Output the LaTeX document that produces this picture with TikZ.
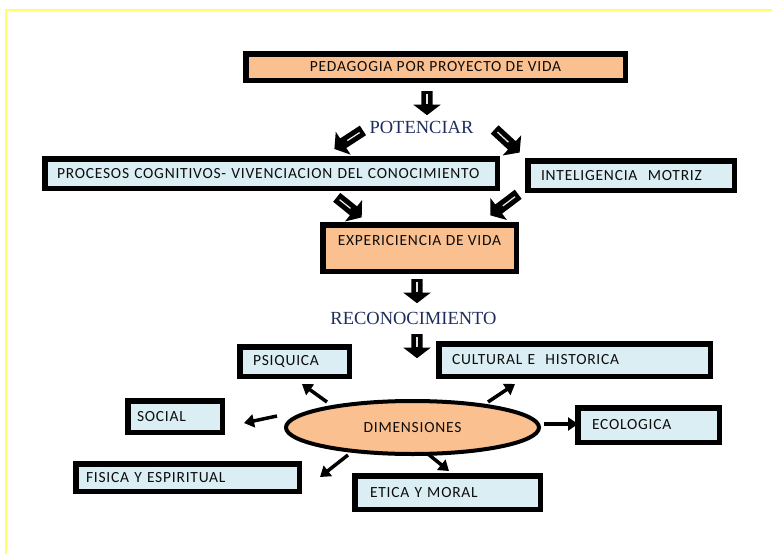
\documentclass[tikz,border=0pt]{standalone}
\usepackage{fontspec}
\setmainfont{Liberation Serif}
\newfontfamily\boxfont[LetterSpace=5]{Carlito}
\usetikzlibrary{shapes.geometric,shapes.arrows,arrows.meta,calc}
\definecolor{peach}{RGB}{250,192,143}
\definecolor{paleblue}{RGB}{219,238,244}
\definecolor{labelblue}{RGB}{30,45,90}
\definecolor{frameyellow}{RGB}{255,255,110}
\begin{document}
\begin{tikzpicture}[x=1pt,y=-1pt,
  box/.style={draw=black, line width=5.5pt, rectangle, font=\boxfont\fontsize{15.5}{17}\selectfont, text=black!95},
  obox/.style={box, fill=peach},
  bbox/.style={box, fill=paleblue, align=left},
  word/.style={font=\fontsize{18.5}{20}\selectfont, text=labelblue, inner sep=0pt},
  blockarrow/.style={single arrow, fill=black, inner sep=5.5pt, single arrow head extend=8pt, single arrow tip angle=105, minimum height=#1},
  blockarrow/.default=24pt,
  shaft/.style={draw=white!90!black, line width=1.3pt},
  thinarrow/.style={line width=3.5pt, -{Triangle[length=10pt,width=13pt]}},
  frame/.style={draw=frameyellow, line width=1.5pt}
]
\useasboundingbox (0,0) rectangle (772,554);
\draw[frame] (5,10) -- (772,10);
\draw[frame] (6,10) -- (6,554);

% boxes
\node[obox, minimum width=379.5pt, minimum height=26.5pt] (ped) at (435.5,67) {PEDAGOGIA POR PROYECTO DE VIDA};
\node[bbox, minimum height=29.5pt, inner xsep=12.25pt, text width=428pt] (proc) at (271,173.5) {PROCESOS COGNITIVOS- VIVENCIACION DEL CONOCIMIENTO};
\node[bbox, minimum height=29.5pt, inner xsep=13.25pt, text width=180pt] (intel) at (631,175.5) {INTELIGENCIA\ \ MOTRIZ};
\node[obox, minimum width=193.5pt, minimum height=46.5pt, text height=10pt, text depth=16pt] (exp) at (419.5,248) {EXPERICIENCIA DE VIDA};
\node[bbox, minimum height=29.5pt, inner xsep=13.25pt, text width=83pt] (psiq) at (294.5,361.5) {PSIQUICA};
\node[bbox, minimum height=32.5pt, inner xsep=13.25pt, text width=245pt] (cult) at (574.5,360) {CULTURAL E\ \ HISTORICA};
\node[bbox, minimum height=31.5pt, inner xsep=9.25pt, text width=76pt] (social) at (175,416.5) {SOCIAL};
\node[bbox, minimum height=34.5pt, inner xsep=14.25pt, text width=113pt] (ecol) at (648.5,425) {ECOLOGICA};
\node[bbox, minimum height=27.5pt, inner xsep=10.25pt, text width=203pt] (fis) at (187.5,477.5) {FISICA Y ESPIRITUAL};
\node[bbox, minimum height=33.5pt, inner xsep=15.25pt, text width=155pt] (etica) at (447.5,492.5) {ETICA Y MORAL};

\node[ellipse, draw=black, line width=4pt, fill=peach, minimum width=253pt, minimum height=53pt, inner sep=0pt, font=\boxfont\fontsize{15.5}{17}\selectfont, text=black!95] (dim) at (412.5,427.5) {DIMENSIONES};

% serif labels
\node[word] (pot) at (421.5,127) {POTENCIAR};
\node[word] (rec) at (413.5,318) {RECONOCIMIENTO};

% block arrows
\node[blockarrow, rotate=-90] (a1) at (427,101) {};
\node[blockarrow=34pt, rotate=213] (a2) at (350.5,138.5) {};
\node[blockarrow=34pt, rotate=-42.6] (a3) at (505.5,139.5) {};
\node[blockarrow=32pt, rotate=-38.7] (a4) at (347.5,206) {};
\node[blockarrow=35pt, rotate=216.9] (a5) at (506,203.5) {};
\node[blockarrow, rotate=-90] (a6) at (417,289) {};
\node[blockarrow, rotate=-90] (a7) at (417,344) {};
\foreach \a in {a1,a2,a3,a4,a5,a6,a7}
  \draw[shaft] ($(\a.tail)!0.12!(\a.tip)$) -- ($(\a.tail)!0.55!(\a.tip)$);

% thin arrows from DIMENSIONES
\coordinate (psiqT) at (327,402); \coordinate (psiqH) at (302,384);
\coordinate (socT) at (277,416);  \coordinate (socH) at (244,423);
\coordinate (fisT) at (348,455);  \coordinate (fisH) at (320,477);
\coordinate (cultT) at (488,402); \coordinate (cultH) at (515,384);
\coordinate (ecolT) at (544,424); \coordinate (ecolH) at (578,424);
\coordinate (etT) at (428,454);   \coordinate (etH) at (449,471);
\draw[thinarrow] (psiqT) -- (psiqH);
\draw[thinarrow] (socT) -- (socH);
\draw[thinarrow] (fisT) -- (fisH);
\draw[thinarrow] (cultT) -- (cultH);
\draw[thinarrow] (ecolT) -- (ecolH);
\draw[thinarrow] (etT) -- (etH);
\end{tikzpicture}
\end{document}
